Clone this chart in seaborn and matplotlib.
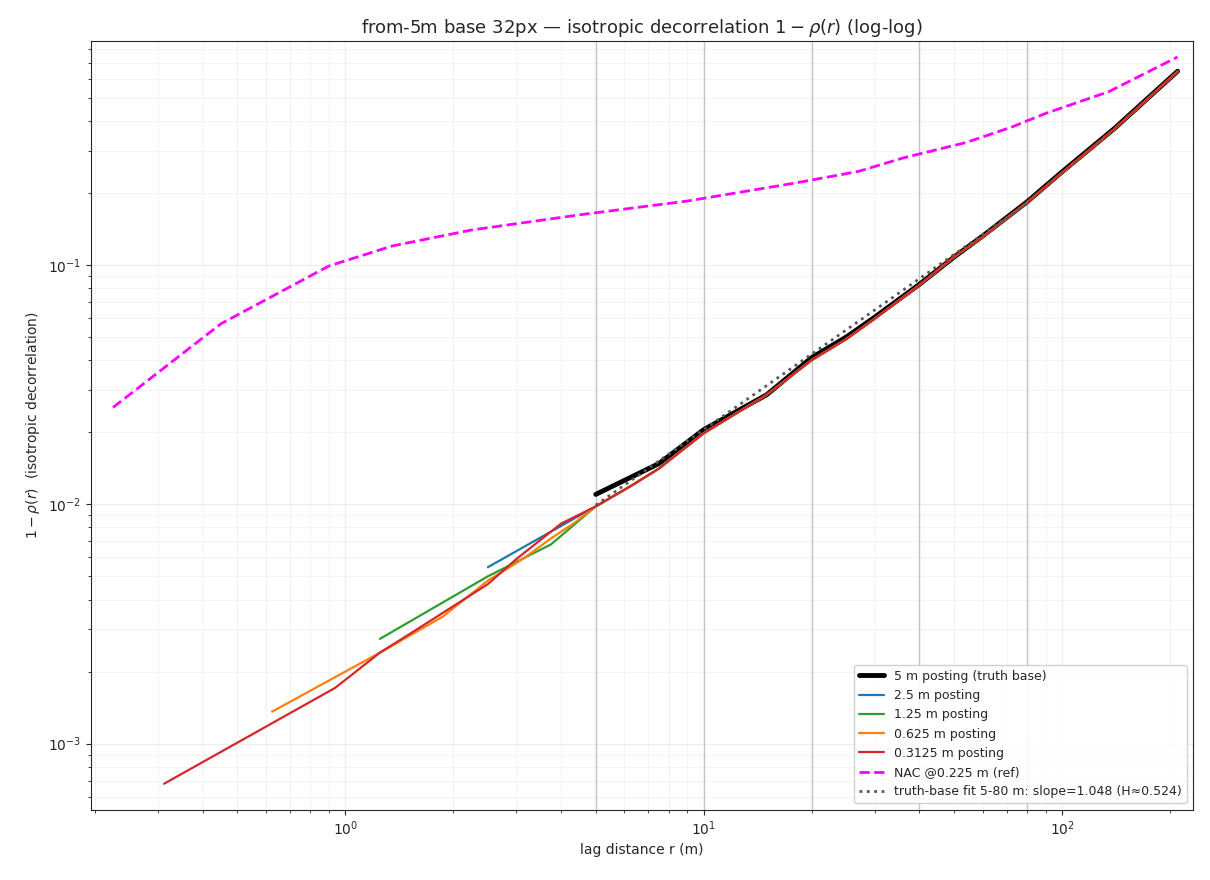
import numpy as np
import matplotlib
matplotlib.use("Agg")
import matplotlib.pyplot as plt
import seaborn as sns

sns.set_style("ticks")
plt.rcParams['font.family'] = ['DejaVu Sans']

# shared tail (all postings coincide beyond ~5 m)
tail_r = [6.25, 7.5, 10, 15, 20, 25, 30, 40, 50, 60, 80, 100, 140, 210]
tail_v = [0.0119, 0.0141, 0.0198, 0.0287, 0.040, 0.049, 0.0596, 0.0825, 0.108, 0.131, 0.183, 0.243, 0.37, 0.643]

truth_r = [5, 7.5, 10, 15, 20, 25, 30, 40, 50, 60, 80, 100, 140, 210]
truth_v = [0.011, 0.0148, 0.0205, 0.0287, 0.041, 0.050, 0.0605, 0.0830, 0.108, 0.132, 0.184, 0.245, 0.372, 0.645]

p25_r = [2.5, 5]
p25_v = [0.00546, 0.0098]
p125_r = [1.25, 2.5, 3.75, 5]
p125_v = [0.00274, 0.0050, 0.0068, 0.0098]
p0625_r = [0.625, 1.25, 1.875, 2.5, 3.125, 3.75, 4.375, 5]
p0625_v = [0.00136, 0.0024, 0.0034, 0.0048, 0.0059, 0.0072, 0.0084, 0.0098]
p03125_r = [0.3125, 0.9375, 1.25, 1.5625, 2.5, 3.0, 4.0, 5]
p03125_v = [0.00068, 0.00171, 0.0024, 0.00296, 0.00464, 0.0059, 0.0083, 0.0098]

nac_r = [0.225, 0.45, 0.9, 1.35, 2.25, 4.5, 9, 18, 27, 36, 54, 72, 90, 135, 210]
nac_v = [0.0254, 0.0568, 0.099, 0.12, 0.14, 0.162, 0.185, 0.22, 0.246, 0.28, 0.325, 0.376, 0.43, 0.53, 0.74]

fit_lo, fit_hi, fit_slope, fit_amp10 = 5, 80, 1.048, 0.0205
vlines = [5, 10, 20, 40, 80]

fig, ax = plt.subplots(figsize=(12.1, 8.8), dpi=100)
fig.subplots_adjust(left=0.075, right=0.986, top=0.953, bottom=0.08)

for v in vlines:
    ax.axvline(v, color="0.6", lw=1, alpha=0.6, zorder=0)

sns.lineplot(x=truth_r, y=truth_v, ax=ax, color="black", lw=3.5, label="5 m posting (truth base)", zorder=3)
series = [(p25_r, p25_v, "tab:blue", "2.5 m posting"),
          (p125_r, p125_v, "tab:green", "1.25 m posting"),
          (p0625_r, p0625_v, "tab:orange", "0.625 m posting"),
          (p03125_r, p03125_v, "tab:red", "0.3125 m posting")]
for r, v, c, lab in series:
    sns.lineplot(x=r + tail_r, y=v + tail_v, ax=ax, color=c, lw=1.6, label=lab, zorder=4, sort=False)
sns.lineplot(x=nac_r, y=nac_v, ax=ax, color="magenta", lw=2, ls="--", label="NAC @0.225 m (ref)")
fr = np.geomspace(fit_lo, fit_hi, 50)
sns.lineplot(x=fr, y=fit_amp10 * (fr / 10) ** fit_slope, ax=ax, color="0.35", lw=2, ls=":",
             label=f"truth-base fit {fit_lo}-{fit_hi} m: slope={fit_slope:.3f} (H≈{fit_slope/2:.3f})", zorder=5)

ax.set_xscale("log"); ax.set_yscale("log")
ax.set_xlim(0.195, 232); ax.set_ylim(5.3e-4, 0.86)
ax.grid(True, which="major", alpha=0.35)
ax.grid(True, which="minor", alpha=0.2)
ax.set_xlabel("lag distance r (m)")
ax.set_ylabel(r"$1-\rho(r)$  (isotropic decorrelation)")
ax.set_title(r"from-5m base 32px — isotropic decorrelation $1-\rho(r)$ (log-log)", fontsize=13)
ax.legend(loc="lower right", fontsize=9, framealpha=0.9)
fig.savefig("out.png")
